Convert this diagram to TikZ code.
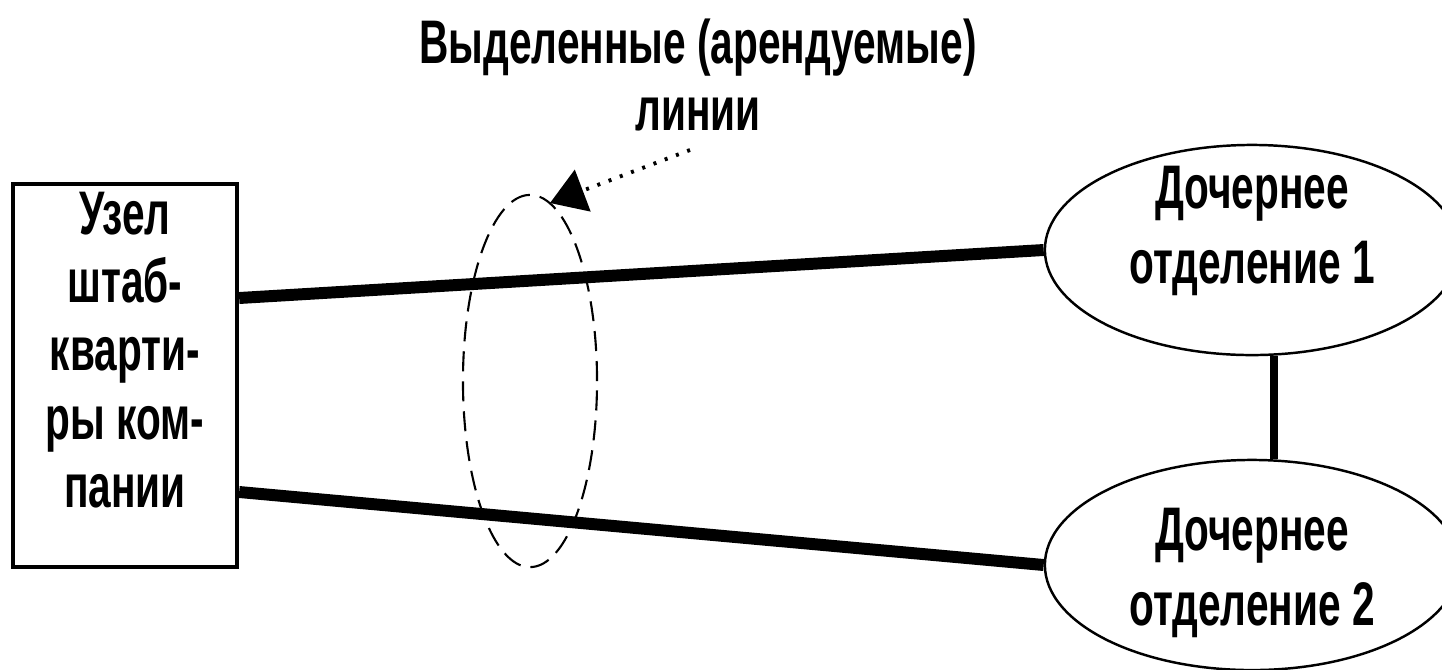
\documentclass[tikz,border=0pt]{standalone}
\usepackage{fontspec}
\setmainfont{Liberation Sans}[FakeStretch=0.66]
\usetikzlibrary{arrows.meta,shapes.geometric}
\begin{document}
\begin{tikzpicture}[x=0.01cm,y=-0.01cm,
  lbl/.style={font=\fontsize{17.5}{19.4}\selectfont\bfseries, align=center, inner sep=0pt},
  lblwide/.style={font=\fontsize{17.5}{21.3}\selectfont\bfseries, align=center, inner sep=0pt},
  hqbox/.style={draw, line width=1.2pt, minimum width=2.24cm, minimum height=3.83cm, inner sep=0pt},
  branch/.style={draw, ellipse, line width=0.7pt, minimum width=4.14cm, minimum height=2.1cm, inner sep=0pt},
  leased/.style={line width=3.4pt},
  link/.style={line width=2.3pt},
  bundle/.style={draw, ellipse, line width=0.6pt, dash pattern=on 0.2cm off 0.1cm, minimum width=1.34cm, minimum height=3.72cm, inner sep=0pt},
  pointer/.style={line width=1.1pt, dash pattern=on 0.03cm off 0.09cm, -{Triangle[length=3.5mm,width=4.4mm]}}
]
\useasboundingbox (0,0) rectangle (1442,669);
\fill[white] (0,0) rectangle (1442,669);

\node[lbl, font=\fontsize{17.5}{18.8}\selectfont\bfseries] (title) at (698,75) {Выделенные (арендуемые)\\линии};

\node[hqbox] (hq) at (125,375.5) {};
\node[lbl] (hqtext) at (125,350) {Узел\\штаб-\\кварти-\\ры ком-\\пании};

\node[branch] (e1) at (1252,250) {};
\node[lblwide] (e1text) at (1252,231) {Дочернее\\отделение 1};
\node[branch] (e2) at (1252,565) {};
\node[lblwide] (e2text) at (1252,573) {Дочернее\\отделение 2};

\node[bundle] (lines) at (530,381) {};

\draw[leased] (hq.east |- 0,298) -- (e1.west);
\draw[leased] (hq.east |- 0,492) -- (e2.west);
\draw[link] ([xshift=0.22cm]e1.south) -- ([xshift=0.22cm]e2.north);

\coordinate (ptrstart) at (690,150);
\coordinate (ptrend) at (550,203);
\draw[pointer] (ptrstart) -- (ptrend);
\end{tikzpicture}
\end{document}
